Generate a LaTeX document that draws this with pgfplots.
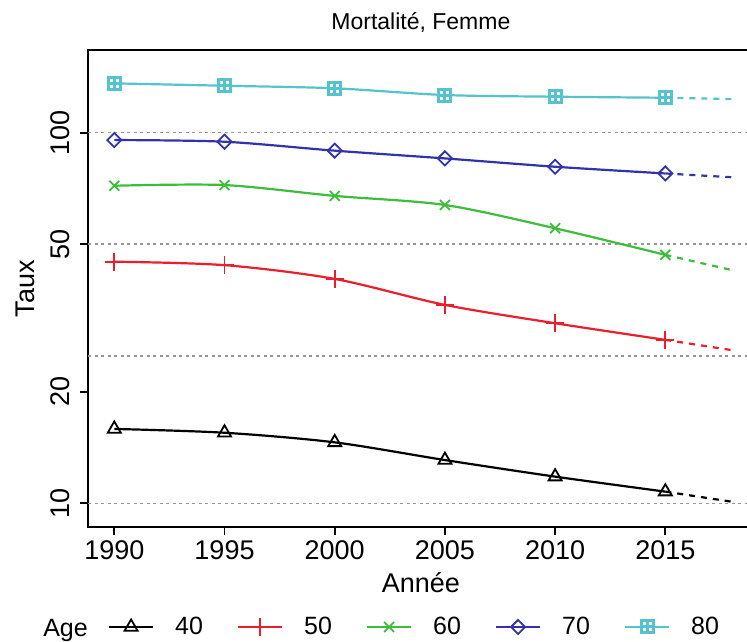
\documentclass[border=0pt]{standalone}
\usepackage{fontspec}
\setmainfont{Liberation Sans}
\usepackage{pgfplots}
\pgfplotsset{compat=1.18}
\definecolor{c40}{RGB}{0,0,0}
\definecolor{c50}{RGB}{235,30,45}
\definecolor{c60}{RGB}{60,190,60}
\definecolor{c70}{RGB}{50,50,170}
\definecolor{c80}{RGB}{85,195,205}
\definecolor{gridgray}{RGB}{150,150,150}
\pgfdeclareplotmark{sqplus}{%
  \pgfpathrectangle{\pgfqpoint{-\pgfplotmarksize}{-\pgfplotmarksize}}{\pgfqpoint{2\pgfplotmarksize}{2\pgfplotmarksize}}%
  \pgfpathmoveto{\pgfqpoint{-\pgfplotmarksize}{0pt}}\pgfpathlineto{\pgfqpoint{\pgfplotmarksize}{0pt}}%
  \pgfpathmoveto{\pgfqpoint{0pt}{-\pgfplotmarksize}}\pgfpathlineto{\pgfqpoint{0pt}{\pgfplotmarksize}}%
  \pgfusepathqstroke}
\begin{document}
\begin{tikzpicture}
\begin{axis}[
  at={(0pt,0pt)}, anchor=south west,
  scale only axis, width=665.2pt, height=477pt,
  xmin=1988.82, xmax=2019.0,
  ymode=log, ymin=8.63, ymax=167.1,
  xtick={1990,1995,2000,2005,2010,2015},
  xticklabels={1990,1995,2000,2005,2010,2015},
  ytick={10,20,50,100},
  yticklabels={10,20,50,100},
  xtick pos=left, ytick pos=left,
  tick align=outside,
  major tick length=8pt,
  minor tick num=0,
  tick style={line width=1.8pt, black},
  axis line style={line width=1.8pt},
  ticklabel style={font=\fontsize{27}{32}\selectfont},
  /pgf/number format/assume math mode=true,
  xticklabel style={anchor=base, yshift=-25pt},
  yticklabel style={xshift=-11pt, rotate=90, anchor=base},
  extra y ticks={10,25,50,100},
  extra y tick labels={},
  extra y tick style={grid=major, major tick length=0pt,
     major grid style={gridgray, dash pattern=on 3pt off 3.5pt, line width=1.5pt}},
  legend columns=-1,
  legend style={at={(axis description cs:0.0296,-0.2096)}, anchor=west,
     draw=none, fill=none, inner sep=0pt, outer sep=0pt,
     font=\fontsize{25}{30}\selectfont,
     nodes={inner sep=0pt},
     column sep=21pt,
     /tikz/every even column/.append style={column sep=34pt}},
  legend image code/.code={%
     \draw[mark repeat=2,mark phase=2,#1] plot coordinates {(0pt,0pt) (22pt,0pt) (44pt,0pt)};},
  clip=false,
]
% dashed projections
\addplot[c40, line width=2.2pt, dash pattern=on 6pt off 6pt, forget plot] coordinates {(2015,10.75)(2018,10.1)};
\addplot[c50, line width=2.2pt, dash pattern=on 6pt off 6pt, forget plot] coordinates {(2015,27.6)(2018,25.9)};
\addplot[c60, line width=2.2pt, dash pattern=on 6pt off 6pt, forget plot] coordinates {(2015,46.8)(2018,42.6)};
\addplot[c70, line width=2.2pt, dash pattern=on 6pt off 6pt, forget plot] coordinates {(2015,77.6)(2018,75.8)};
\addplot[c80, line width=2.2pt, dash pattern=on 6pt off 6pt, forget plot] coordinates {(2015,124.2)(2018,123.2)};
% observed
\addplot[c40, line width=2.2pt, smooth, mark=triangle, mark size=7.5pt, mark options={solid, line width=1.8pt}]
  coordinates {(1990,15.87)(1995,15.5)(2000,14.6)(2005,13.08)(2010,11.8)(2015,10.75)};
\addlegendentry{40}
\addplot[c50, line width=2.2pt, smooth, mark=+, mark size=9pt, mark options={solid, line width=1.8pt}]
  coordinates {(1990,44.85)(1995,43.9)(2000,40.3)(2005,34.3)(2010,30.6)(2015,27.6)};
\addlegendentry{50}
\addplot[c60, line width=2.2pt, smooth, mark=x, mark size=7pt, mark options={solid, line width=1.8pt}]
  coordinates {(1990,71.9)(1995,72.2)(2000,67.5)(2005,63.8)(2010,55.2)(2015,46.8)};
\addlegendentry{60}
\addplot[c70, line width=2.2pt, smooth, mark=square, mark size=5pt, mark options={solid, rotate=45, line width=1.8pt}]
  coordinates {(1990,95.5)(1995,94.5)(2000,89.4)(2005,85.2)(2010,80.9)(2015,77.6)};
\addlegendentry{70}
\addplot[c80, line width=2.2pt, smooth, mark=sqplus, mark size=6pt, mark options={solid, line width=3pt}]
  coordinates {(1990,135.8)(1995,133.8)(2000,131.7)(2005,126.3)(2010,125.0)(2015,124.2)};
\addlegendentry{80}
\end{axis}
\node[anchor=base, font=\fontsize{23}{28}\selectfont] at (332.6pt,497pt) {Mortalité, Femme};
\node[anchor=base, font=\fontsize{27}{32}\selectfont] at (332.6pt,-66pt) {Année};
\node[anchor=base, rotate=90, font=\fontsize{27}{32}\selectfont] at (-53.3pt,238.5pt) {Taux};
\node[anchor=base east, inner sep=0pt, font=\fontsize{25}{30}\selectfont] at (-0.3pt,-109.7pt) {Age};
\pgfresetboundingbox
\path[use as bounding box] (-88.3pt,-115pt) rectangle (658.7pt,527pt);
\end{tikzpicture}
\end{document}
